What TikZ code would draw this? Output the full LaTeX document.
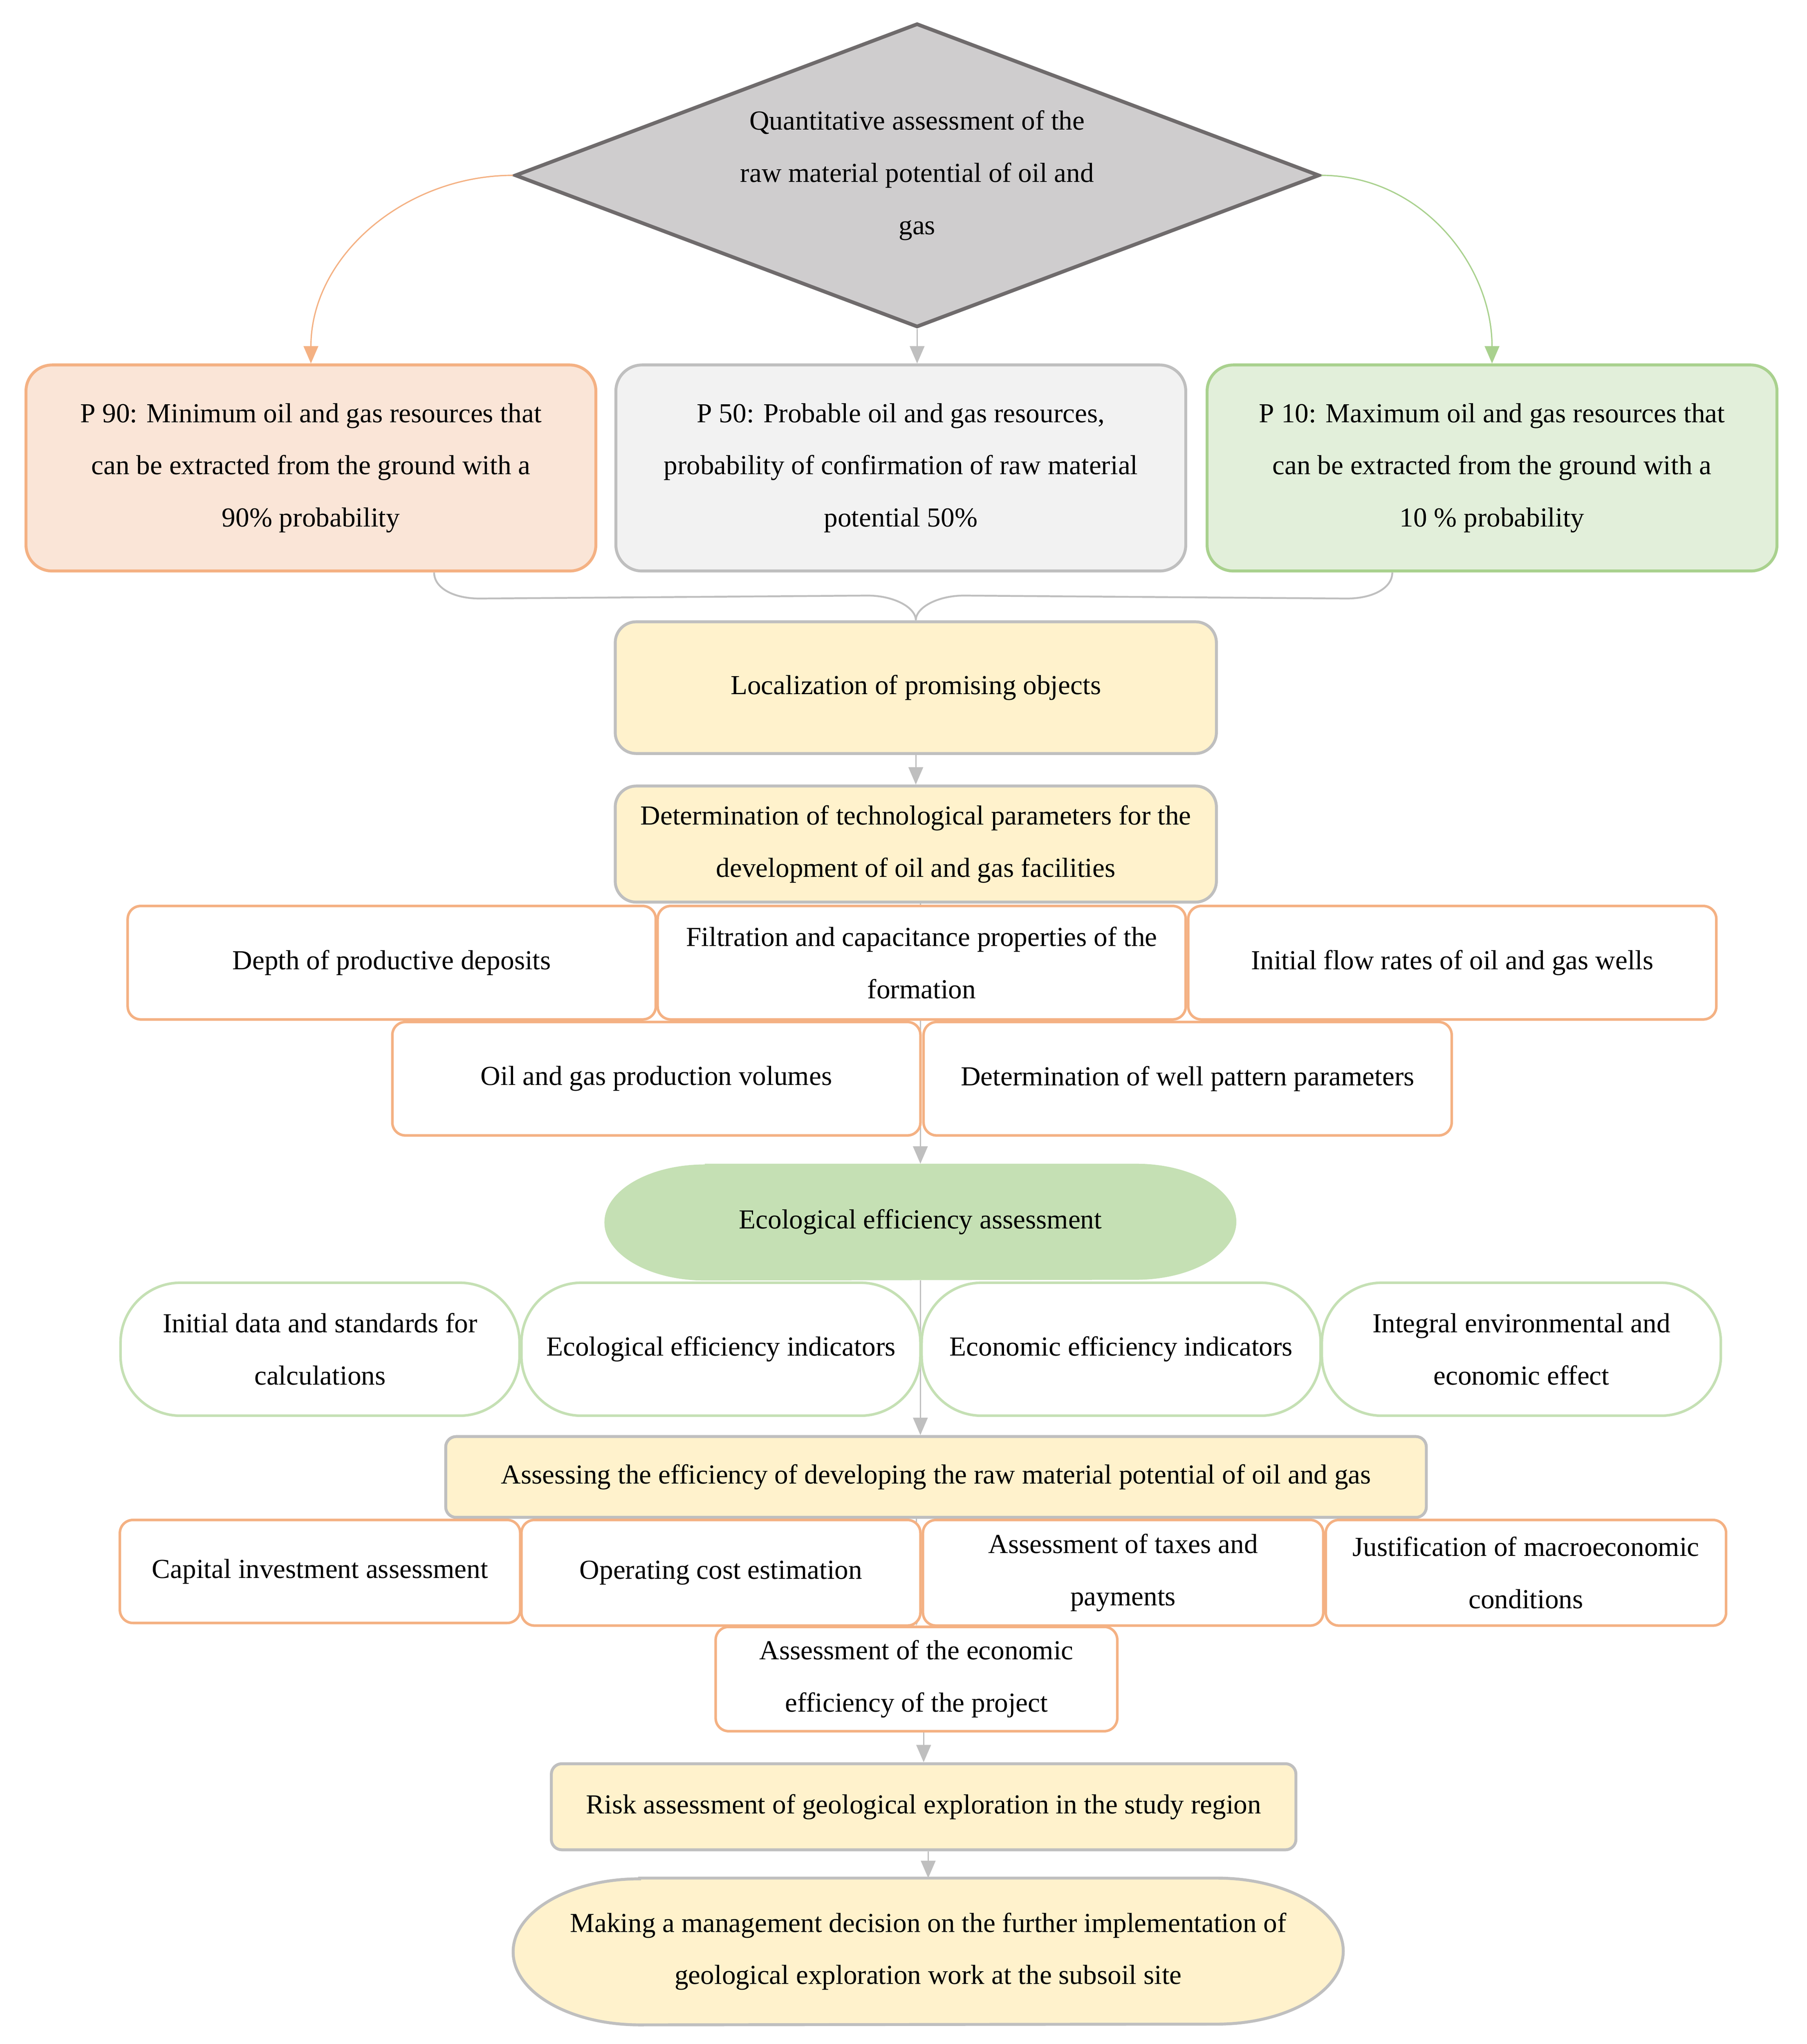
\documentclass[tikz,border=0pt]{standalone}
\usepackage{fontspec}
\setmainfont{Liberation Serif}
\usetikzlibrary{shapes.geometric,arrows.meta,calc,backgrounds}

\definecolor{diafill}{HTML}{CFCDCE}
\definecolor{diadraw}{HTML}{6F6B6C}
\definecolor{orline}{HTML}{F4B183}
\definecolor{orfill}{HTML}{FAE5D7}
\definecolor{grline}{HTML}{BFBFBF}
\definecolor{grfill}{HTML}{F2F2F2}
\definecolor{gnline}{HTML}{A9D18E}
\definecolor{gnfill}{HTML}{E2EFDA}
\definecolor{gnsoft}{HTML}{C5E0B4}
\definecolor{yefill}{HTML}{FFF2CC}

\tikzset{
    txt/.style={align=center, inner sep=0pt, font=\fontsize{15}{28.5}\selectfont},
    pbox/.style={txt, draw, line width=1.6pt, rounded corners=0.5cm, minimum width=10.925cm, minimum height=3.95cm},
    ybox/.style={txt, draw=grline, fill=yefill, line width=1.6pt},
    obox/.style={txt, draw=orline, fill=white, line width=1.4pt, rounded corners=0.25cm},
    gbox/.style={txt, draw=gnsoft, fill=white, line width=1.4pt, rounded corners=1.15cm, minimum width=7.65cm, minimum height=2.55cm},
    link/.style={draw=grline, line width=0.7pt},
    arr/.style={-{Triangle[length=9.5pt,width=8pt]}, line width=0.7pt}
}

\begin{document}
\begin{tikzpicture}[x=0.025cm, y=-0.025cm]
                    \useasboundingbox (0,0) rectangle (1386,1568);

                    \node[txt, shape=diamond, aspect=2.648, draw=diadraw, fill=diafill, line width=2pt, minimum width=15.425cm, minimum height=5.825cm] (quant) at (703.5,134.5) {Quantitative assessment of the\\raw material potential of oil and\\gas};

                    \node[pbox, draw=orline, fill=orfill] (p90) at (238.5,359) {P 90: Minimum oil and gas resources that\\can be extracted from the ground with a\\90\% probability};
                    \node[pbox, draw=grline, fill=grfill] (p50) at (691,359) {P 50: Probable oil and gas resources,\\probability of confirmation of raw material\\potential 50\%};
                    \node[pbox, draw=gnline, fill=gnfill] (p10) at (1144.5,359) {P 10: Maximum oil and gas resources that\\can be extracted from the ground with a\\10 \% probability};

                    \draw[orline, arr] (quant.west) to[out=180, in=90] (p90.north);
                    \draw[grline, arr] (quant.south) -- (quant.south |- p50.north);
                    \draw[gnline, arr] (quant.east) to[out=0, in=90] (p10.north);

                    \node[ybox, rounded corners=0.4cm, minimum width=11.525cm, minimum height=2.525cm] (loc) at (702.5,527.5) {Localization of promising objects};
                    \node[ybox, rounded corners=0.4cm, minimum width=11.525cm, minimum height=2.225cm] (det) at (702.5,647.5) {Determination of technological parameters for the\\development of oil and gas facilities};

                    \draw[link, line width=1pt] ($(p90.south)+(94.5,0)$) .. controls +(0,12) and +(-20,0) .. ++(35,20) -- ($(loc.north)+(-37,-19)$) .. controls +(20,0) and +(0,-10) .. (loc.north);
                    \draw[link, line width=1pt] ($(p10.south)+(-76.5,0)$) .. controls +(0,12) and +(20,0) .. ++(-35,20) -- ($(loc.north)+(37,-19)$) .. controls +(-20,0) and +(0,-10) .. (loc.north);
                    \draw[link, arr] (loc.south) -- (det.north);

                    \node[obox, minimum width=10.125cm, minimum height=2.175cm] (depth) at (300.5,738.5) {Depth of productive deposits};
                    \node[obox, minimum width=10.125cm, minimum height=2.175cm] (filt) at (707,738.5) {Filtration and capacitance properties of the\\formation};
                    \node[obox, minimum width=10.125cm, minimum height=2.175cm] (flow) at (1114,738.5) {Initial flow rates of oil and gas wells};
                    \node[obox, minimum width=10.125cm, minimum height=2.175cm] (prod) at (503.5,827.5) {Oil and gas production volumes};
                    \node[obox, minimum width=10.125cm, minimum height=2.175cm] (well) at (911,827.5) {Determination of well pattern parameters};

                    \node[txt, minimum width=12.1cm, minimum height=2.225cm] (eco) at (706,937.5) {Ecological efficiency assessment};

                    \node[gbox] (indata) at (245.5,1035) {Initial data and standards for\\calculations};
                    \node[gbox] (ecoind) at (553,1035) {Ecological efficiency indicators};
                    \node[gbox] (econind) at (860,1035) {Economic efficiency indicators};
                    \node[gbox] (integral) at (1167,1035) {Integral environmental and\\economic effect};

                    \node[ybox, rounded corners=0.2cm, minimum width=18.8cm, minimum height=1.55cm] (assess) at (718,1133) {Assessing the efficiency of developing the raw material potential of oil and gas};

                    \node[obox, minimum width=7.675cm, minimum height=1.975cm] (capital) at (245.5,1205.5) {Capital investment assessment};
                    \node[obox, minimum width=7.65cm, minimum height=2.025cm] (opcost) at (553,1206.5) {Operating cost estimation};
                    \node[obox, minimum width=7.675cm, minimum height=2.025cm] (taxes) at (861.5,1206.5) {Assessment of taxes and\\payments};
                    \node[obox, minimum width=7.675cm, minimum height=2.025cm] (macro) at (1170.5,1206.5) {Justification of macroeconomic\\conditions};
                    \node[obox, minimum width=7.7cm, minimum height=2cm] (econ) at (703,1288) {Assessment of the economic\\efficiency of the project};

                    \node[ybox, rounded corners=0.2cm, minimum width=14.275cm, minimum height=1.65cm] (risk) at (708.5,1386) {Risk assessment of geological exploration in the study region};
                    \node[txt, minimum width=15.9cm, minimum height=2.8cm] (decide) at (712,1497) {Making a management decision on the further implementation of\\geological exploration work at the subsoil site};

                    \begin{scope}[on background layer]
                        \fill[gnsoft] ($(eco.north west)+(77,0)$) -- ($(eco.north east)+(-77,0)$) arc[start angle=90, end angle=-90, x radius=1.925cm, y radius=1.1125cm] -- ($(eco.south west)+(77,0)$) arc[start angle=270, end angle=90, x radius=1.925cm, y radius=1.1125cm] -- cycle;
                        \draw[grline, fill=yefill, line width=1.6pt] ($(decide.north west)+(97,0)$) -- ($(decide.north east)+(-97,0)$) arc[start angle=90, end angle=-90, x radius=2.425cm, y radius=1.4cm] -- ($(decide.south west)+(97,0)$) arc[start angle=270, end angle=90, x radius=2.425cm, y radius=1.4cm] -- cycle;
                        \draw[link, arr] (det.south -| eco.north) -- (eco.north);
                        \draw[link, arr] (eco.south) -- (eco.south |- assess.north);
                        \draw[link, arr] (assess.south -| econ.north) -- (econ.north);
                        \draw[link, arr] (econ.south -| risk.north) -- (risk.north);
                        \draw[link, arr] (risk.south -| decide.north) -- (decide.north);
                    \end{scope}
                \end{tikzpicture}
\end{document}
